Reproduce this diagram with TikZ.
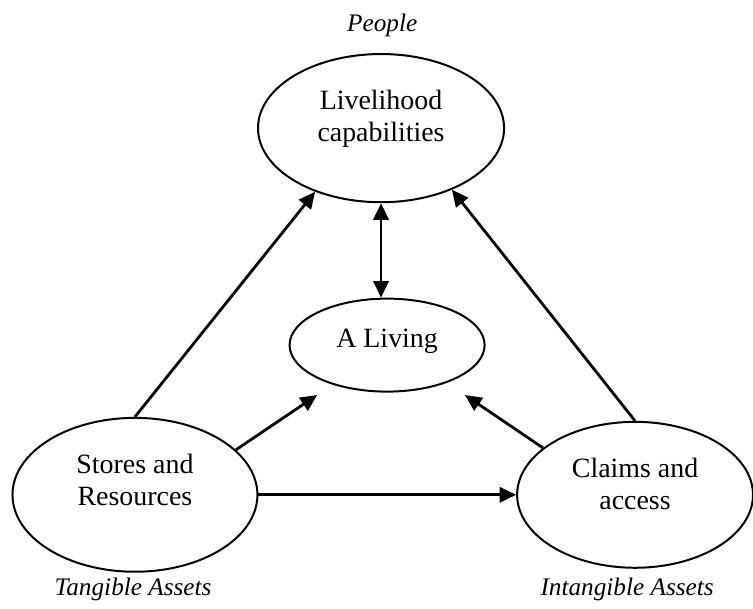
\documentclass[tikz,border=0pt]{standalone}
\usepackage{fontspec}
\setmainfont{Liberation Serif}
\usetikzlibrary{shapes.geometric,arrows.meta}

\begin{document}
\begin{tikzpicture}[
    blob/.style={ellipse, draw, line width=1.5pt, inner sep=0pt, align=center,
                 font=\fontsize{21}{24}\selectfont},
    tag/.style={font=\fontsize{19}{22}\selectfont\itshape},
    link/.style={line width=2.1pt, -{Triangle[length=12.5pt,width=11.5pt]}}
  ]
        \useasboundingbox (0,0) rectangle (19.92,16.09);

        % Ellipses
        \node[blob, minimum width=6.51cm, minimum height=3.92cm, text depth=19pt] (live) at (10.08,12.70) {Livelihood\\capabilities};
        \node[blob, minimum width=5.16cm, minimum height=2.46cm, text depth=11pt] (living) at (10.24,6.96) {A Living};
        \node[blob, minimum width=6.48cm, minimum height=4.07cm, text depth=22pt] (stores) at (3.57,3.00) {Stores and\\Resources};
        \node[blob, minimum width=6.24cm, minimum height=3.86cm, text depth=16pt] (claims) at (16.80,3.00) {Claims and\\access};

        % Labels
        \node[tag] (people) at (10.11,15.43) {People};
        \node[tag] (tangible) at (3.52,0.50) {Tangible Assets};
        \node[tag] (intangible) at (16.59,0.50) {Intangible Assets};

        % Arrow tips below A Living
        \coordinate (tipL) at (8.39,5.64);
        \coordinate (tipR) at (12.30,5.64);

        % Arrows
        \draw[link] (stores.north) -- (live.224);
        \draw[link] (claims.north) -- (live.-41);
        \draw[link, {Triangle[length=12.5pt,width=11.5pt]}-{Triangle[length=12.5pt,width=11.5pt]}] (live.south) -- (live.south |- living.north);
        \draw[link] (stores.24) -- (tipL);
        \draw[link] (claims.153) -- (tipR);
        \draw[link] (stores.east) -- (claims.west);
      \end{tikzpicture}
\end{document}
